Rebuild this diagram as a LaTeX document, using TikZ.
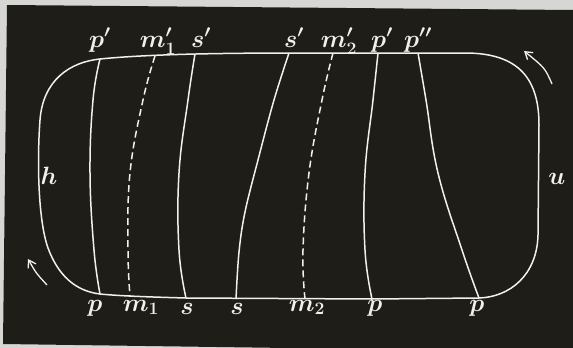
\documentclass[tikz,border=0pt]{standalone}
\usepackage{fix-cm}
\usetikzlibrary{arrows.meta}
\definecolor{bg}{HTML}{D6D6D4}
\definecolor{board}{HTML}{1F1D18}
\definecolor{chalk}{HTML}{F0F0EC}
\begin{document}
\begin{tikzpicture}[x=1pt,y=-1pt,
 wl/.style={draw=chalk,line width=1.5pt},
 dl/.style={wl,dash pattern=on 7pt off 4pt},
 lab/.style={text=chalk,font=\fontsize{25}{30}\selectfont\boldmath,inner sep=0pt,anchor=base},
 arr/.style={draw=chalk,line width=1.3pt,-{Straight Barb[length=7pt,width=9pt]}}]
\useasboundingbox (0,0) rectangle (573,348);
\fill[bg] (0,0) rectangle (573,348);
\fill[board] (7,5) -- (573,10) -- (573,352) -- (3,344) -- cycle;
% outer loop
\draw[wl] (100,59) .. controls (140,55) and (200,53) .. (300,53) -- (465,53)
  .. controls (520,53) and (539,80) .. (539,125) -- (538,235)
  .. controls (537,275) and (510,297) .. (479,298) -- (372,299) -- (186,298)
  .. controls (150,297) and (120,296) .. (100,294)
  .. controls (75,291) and (58,275) .. (48,248)
  .. controls (38,220) and (37,160) .. (40,120)
  .. controls (43,80) and (70,62) .. (100,59) -- cycle;
% inner lines
\draw[wl] plot[smooth,tension=0.7] coordinates {(100,59) (93,100) (90,173) (94,250) (100,294)};
\draw[dl] plot[smooth,tension=0.7] coordinates {(155,56) (143,100) (130,173) (128,250) (130,296)};
\draw[wl] plot[smooth,tension=0.7] coordinates {(195,54) (188,100) (179,173) (179,250) (186,298)};
\draw[wl] plot[smooth,tension=0.6] coordinates {(289,53) (274,100) (258,160) (245,212) (239,252) (236,299)};
\draw[dl] plot[smooth,tension=0.7] coordinates {(333,53) (322,100) (309,173) (303,250) (305,299)};
\draw[wl] plot[smooth,tension=0.7] coordinates {(378,53) (373,100) (365,173) (365,250) (372,299)};
\draw[wl] plot[smooth,tension=0.7] coordinates {(418,53) (426,100) (438,173) (462,250) (479,298)};
% top labels
\node[lab] (t1) at (100,47) {$p'$};
\node[lab] (t2) at (158,47) {$m'_1$};
\node[lab] (t3) at (201,47) {$s'$};
\node[lab] (t4) at (294,47) {$s'$};
\node[lab] (t5) at (339,47) {$m'_2$};
\node[lab] (t6) at (382,47) {$p'$};
\node[lab] (t7) at (418,47) {$p''$};
% bottom labels
\node[lab] (b1) at (95,311) {$p$};
\node[lab] (b2) at (141,311) {$m_1$};
\node[lab] (b3) at (187,314) {$s$};
\node[lab] (b4) at (237,314) {$s$};
\node[lab] (b5) at (307,311) {$m_2$};
\node[lab] (b6) at (375,311) {$p$};
\node[lab] (b7) at (477,311) {$p$};
% side labels
\node[lab] (h) at (49,184) {$h$};
\node[lab] (u) at (557,184) {$u$};
% arrows
\coordinate (a1s) at (552,84);
\coordinate (a1e) at (524,51);
\coordinate (a2s) at (47,285);
\coordinate (a2e) at (28,259);
\draw[arr] (a1s) .. controls (545,68) .. (a1e);
\draw[arr] (a2s) .. controls (36,273) .. (a2e);
\end{tikzpicture}
\end{document}
